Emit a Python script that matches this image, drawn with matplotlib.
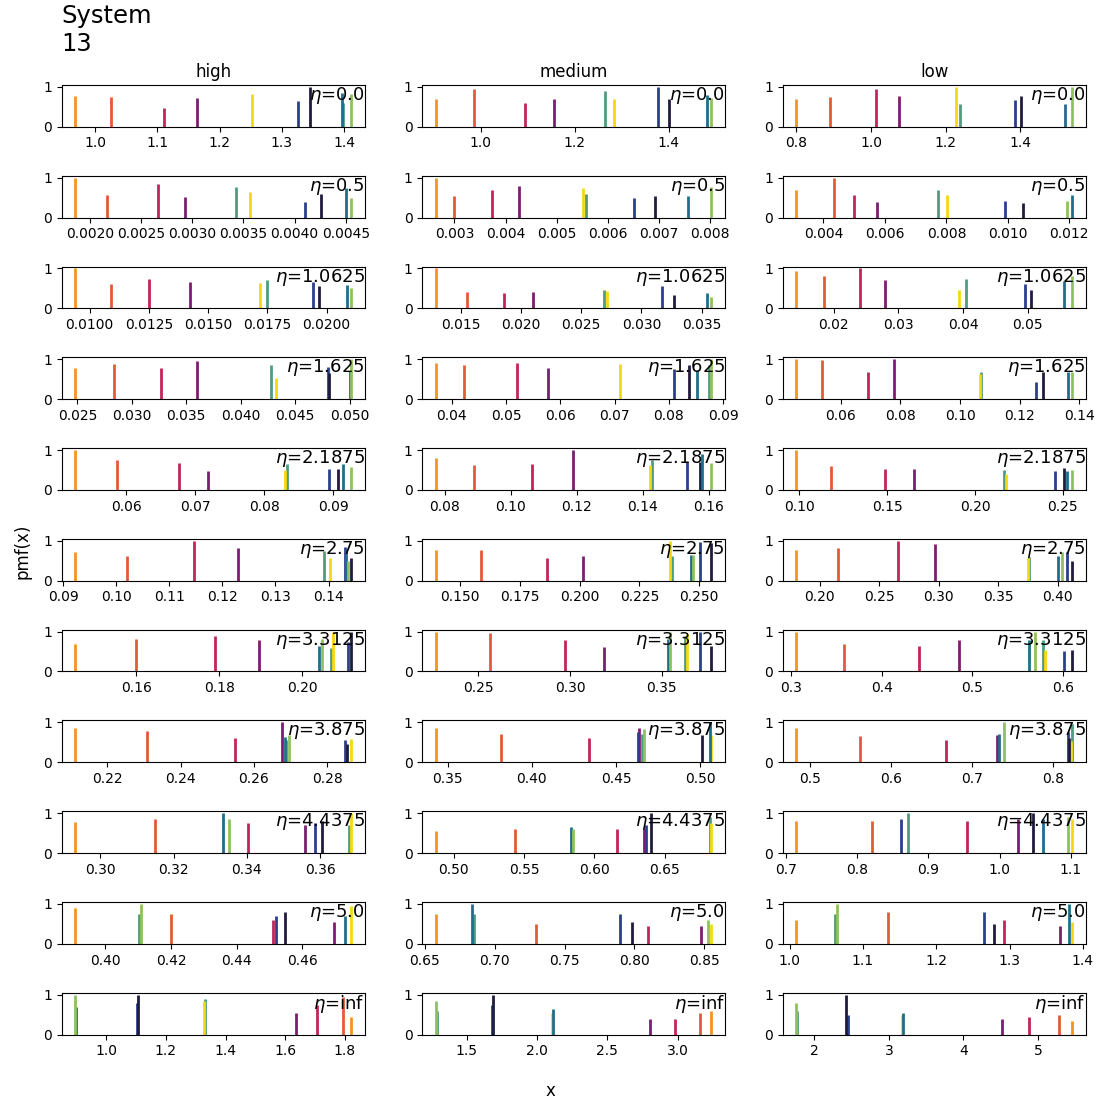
import matplotlib
matplotlib.use("Agg")
import matplotlib.pyplot as plt
from matplotlib.ticker import MaxNLocator

columns = ["high", "medium", "low"]
etas = ["0.0", "0.5", "1.0625", "1.625", "2.1875", "2.75", "3.3125", "3.875", "4.4375", "5.0", "inf"]
colors = ["#f7931e", "#e35b36", "#c2255a", "#7b1d70", "#4f9c7e",
          "#f5d90f", "#2c3e8e", "#1f1c3d", "#1f6e8c", "#8fc15c"]

# support points per eta row (10 states each), one list per column
x_high = [
    [0.968, 1.025, 1.111, 1.163, 1.398, 1.252, 1.326, 1.345, 1.397, 1.411],
    [0.00186, 0.00217, 0.00267, 0.00293, 0.00343, 0.00357, 0.00410, 0.00426, 0.00450, 0.00455],
    [0.0094, 0.01088, 0.01252, 0.01424, 0.01748, 0.01717, 0.01941, 0.01968, 0.02087, 0.02102],
    [0.02482, 0.02835, 0.03268, 0.03595, 0.0428, 0.04323, 0.04799, 0.04811, 0.05006, 0.05012],
    [0.05264, 0.05865, 0.0676, 0.07178, 0.08332, 0.08308, 0.08933, 0.09063, 0.09135, 0.09255],
    [0.09231, 0.10206, 0.11469, 0.12294, 0.13906, 0.14019, 0.14313, 0.14419, 0.14331, 0.14363],
    [0.14536, 0.16, 0.17904, 0.1896, 0.20704, 0.20752, 0.21104, 0.21176, 0.20416, 0.2048],
    [0.21131, 0.23086, 0.25475, 0.26769, 0.2688, 0.28643, 0.28489, 0.2853, 0.26842, 0.26959],
    [0.2932, 0.3149, 0.3404, 0.3559, 0.3680, 0.3684, 0.3586, 0.3605, 0.3334, 0.3350],
    [0.3909, 0.4200, 0.4512, 0.4697, 0.4103, 0.4748, 0.4521, 0.4548, 0.4730, 0.4109],
    [1.82, 1.7933, 1.7067, 1.6367, 1.33, 1.3267, 1.1033, 1.1067, 0.9, 0.8967],
]
p_high = [
    [0.76, 0.74, 0.46, 0.71, 0.60, 0.82, 0.65, 1.00, 0.85, 0.82],
    [1.00, 0.57, 0.83, 0.52, 0.77, 0.65, 0.40, 0.60, 0.75, 0.50],
    [1.00, 0.62, 0.74, 0.66, 0.70, 0.64, 0.67, 0.55, 0.58, 0.51],
    [0.77, 0.88, 0.77, 0.96, 0.85, 0.53, 0.81, 0.66, 0.70, 1.00],
    [1.00, 0.75, 0.68, 0.48, 0.64, 0.51, 0.53, 0.53, 0.65, 0.57],
    [0.71, 0.61, 1.00, 0.83, 0.75, 0.56, 0.84, 0.56, 0.77, 0.50],
    [0.69, 0.82, 0.88, 0.79, 0.58, 1.00, 0.73, 0.98, 0.65, 0.82],
    [0.85, 0.79, 0.62, 1.00, 0.55, 0.59, 0.55, 0.45, 0.64, 0.68],
    [0.78, 0.85, 0.75, 0.70, 0.70, 1.00, 0.75, 0.80, 1.00, 0.85],
    [0.90, 0.75, 0.60, 0.55, 0.75, 0.95, 0.70, 0.80, 0.70, 1.00],
    [0.45, 0.95, 0.75, 0.55, 0.90, 0.85, 0.80, 1.00, 0.70, 1.00],
]

x_medium = [
    [0.905, 0.987, 1.095, 1.156, 1.264, 1.283, 1.377, 1.40, 1.481, 1.491],
    [0.00264, 0.0030, 0.00373, 0.00426, 0.00557, 0.00551, 0.00651, 0.00692, 0.00756, 0.00802],
    [0.01293, 0.01555, 0.01861, 0.02098, 0.02685, 0.02715, 0.03167, 0.03271, 0.03547, 0.0358],
    [0.03706, 0.04226, 0.05193, 0.05774, 0.0874, 0.07107, 0.08098, 0.08373, 0.08514, 0.08783],
    [0.07739, 0.08905, 0.10653, 0.11889, 0.14281, 0.14221, 0.15357, 0.15739, 0.15789, 0.1608],
    [0.13986, 0.15861, 0.18639, 0.20139, 0.23861, 0.23778, 0.25042, 0.25514, 0.24653, 0.24764],
    [0.22681, 0.25634, 0.2971, 0.31848, 0.36286, 0.36413, 0.37083, 0.37717, 0.35326, 0.35453],
    [0.3429, 0.38139, 0.4337, 0.4639, 0.4653, 0.50673, 0.46291, 0.5014, 0.50594, 0.46646],
    [0.4873, 0.5437, 0.6162, 0.6352, 0.6824, 0.6831, 0.6366, 0.6401, 0.5831, 0.5845],
    [0.658, 0.7299, 0.8095, 0.8479, 0.685, 0.855, 0.7896, 0.7981, 0.6836, 0.8529],
    [3.2397, 3.162, 2.9781, 2.8013, 1.287, 2.1082, 1.6768, 1.6839, 2.115, 1.2808],
]
p_medium = [
    [0.70, 0.96, 0.59, 0.69, 0.89, 0.70, 1.00, 0.69, 0.79, 0.72],
    [1.00, 0.53, 0.68, 0.79, 0.58, 0.74, 0.48, 0.53, 0.55, 0.77],
    [1.00, 0.42, 0.38, 0.42, 0.45, 0.43, 0.56, 0.34, 0.38, 0.29],
    [0.90, 0.85, 0.91, 0.79, 0.85, 0.88, 0.76, 0.85, 0.73, 1.00],
    [0.81, 0.63, 0.66, 1.00, 0.75, 0.62, 0.70, 0.70, 0.90, 0.68],
    [0.77, 0.77, 0.58, 0.61, 0.61, 1.00, 0.98, 0.94, 0.65, 0.65],
    [1.00, 0.97, 0.78, 0.61, 0.90, 0.94, 1.00, 0.65, 0.82, 0.98],
    [0.85, 0.72, 0.62, 0.87, 0.70, 0.68, 0.76, 0.69, 1.00, 0.83],
    [0.55, 0.60, 0.60, 0.60, 0.90, 0.75, 0.70, 1.00, 0.65, 0.60],
    [0.75, 0.50, 0.45, 0.45, 0.75, 0.50, 0.75, 0.55, 1.00, 0.60],
    [0.60, 0.55, 0.40, 0.40, 0.60, 0.55, 0.75, 1.00, 0.65, 0.85],
]

x_low = [
    [0.80, 0.891, 1.013, 1.074, 1.238, 1.228, 1.386, 1.403, 1.52, 1.538],
    [0.00312, 0.00435, 0.0050, 0.00575, 0.00773, 0.00801, 0.00989, 0.01048, 0.01208, 0.01192],
    [0.01426, 0.01846, 0.02415, 0.028, 0.04041, 0.03938, 0.04954, 0.05046, 0.05554, 0.05682],
    [0.04522, 0.05389, 0.06922, 0.07778, 0.10711, 0.10667, 0.12544, 0.12767, 0.13611, 0.13744],
    [0.0983, 0.1178, 0.1485, 0.1652, 0.2167, 0.2178, 0.2456, 0.2509, 0.2523, 0.2551],
    [0.18045, 0.21536, 0.26592, 0.29721, 0.37598, 0.37458, 0.40754, 0.41173, 0.40, 0.40335],
    [0.3059, 0.3579, 0.4407, 0.4853, 0.578, 0.5806, 0.6018, 0.6099, 0.563, 0.5696],
    [0.48363, 0.56222, 0.66865, 0.73127, 0.82337, 0.8221, 0.81846, 0.8205, 0.73332, 0.73946],
    [0.715, 0.8205, 0.9548, 1.026, 0.8712, 1.1014, 0.8616, 1.0466, 1.0603, 1.0959],
    [1.0093, 1.1347, 1.292, 1.3693, 1.0613, 1.385, 1.2653, 1.2787, 1.381, 1.064],
    [5.4533, 5.28, 4.88, 4.52, 1.773, 3.1733, 2.4533, 2.4267, 3.19, 1.76],
]
p_low = [
    [0.70, 0.75, 0.96, 0.77, 0.56, 1.00, 0.66, 0.77, 0.58, 1.00],
    [0.70, 1.00, 0.56, 0.38, 0.69, 0.56, 0.42, 0.36, 0.57, 0.41],
    [0.93, 0.82, 1.00, 0.70, 0.73, 0.46, 0.60, 0.46, 0.68, 0.81],
    [1.00, 0.98, 0.69, 1.00, 0.69, 0.62, 0.44, 0.68, 0.68, 0.68],
    [1.00, 0.61, 0.53, 0.53, 0.49, 0.40, 0.47, 0.56, 0.47, 0.49],
    [0.77, 0.82, 1.00, 0.92, 0.59, 0.56, 0.73, 0.50, 0.61, 0.71],
    [1.00, 0.69, 0.65, 0.79, 0.78, 0.54, 0.51, 0.54, 0.78, 0.98],
    [0.85, 0.65, 0.57, 0.69, 0.97, 0.53, 0.76, 0.62, 0.72, 1.00],
    [0.80, 0.80, 0.80, 0.85, 1.00, 0.85, 0.85, 1.00, 0.85, 0.90],
    [0.60, 0.80, 0.60, 0.45, 0.75, 0.55, 0.80, 0.50, 1.00, 1.00],
    [0.35, 0.50, 0.45, 0.40, 0.60, 0.50, 0.50, 1.00, 0.55, 0.80],
]

xs = [x_high, x_medium, x_low]
ps = [p_high, p_medium, p_low]

fig, axes = plt.subplots(len(etas), 3, figsize=(11.01, 11.03), dpi=100)
fig.subplots_adjust(left=0.056, right=0.986, top=0.923, bottom=0.062,
                    wspace=0.19, hspace=1.17)

for j, col in enumerate(columns):
    for i, eta in enumerate(etas):
        ax = axes[i, j]
        for k in range(len(colors)):
            ax.vlines(xs[j][i][k], 0, ps[j][i][k], color=colors[k], lw=2)
        ax.set_ylim(0, 1.05)
        ax.set_yticks([0, 1])
        ax.xaxis.set_major_locator(MaxNLocator(nbins=6, steps=[1, 2, 2.5, 5, 10]))
        ax.text(1.0, 1.0, r"$\eta$=" + eta, transform=ax.transAxes,
                ha="right", va="top", fontsize=13)
        if i == 0:
            ax.set_title(col)

fig.text(0.056, 0.996, "System\n13", ha="left", va="top", fontsize=17.5)
fig.supylabel("pmf(x)", x=0.012, fontsize=12)
fig.supxlabel("x", y=0.003, fontsize=12)

plt.savefig("out.png")
